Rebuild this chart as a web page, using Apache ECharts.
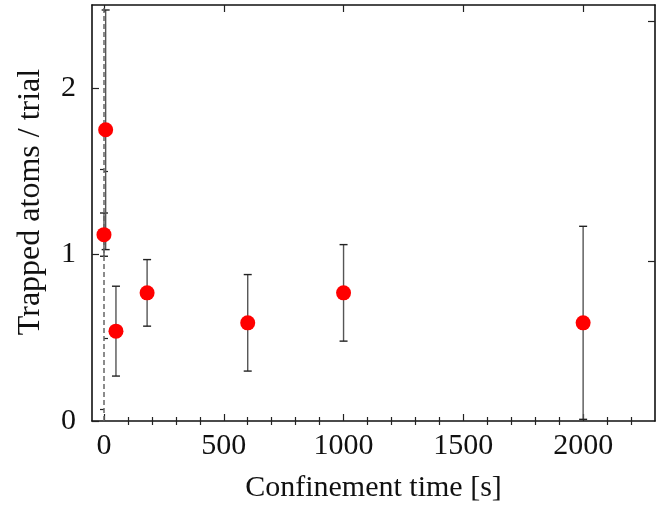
<!DOCTYPE html>
<html>
<head>
<meta charset="utf-8">
<script src="https://cdn.jsdelivr.net/npm/echarts@6/dist/echarts.min.js"></script>
<style>
html,body{margin:0;padding:0;background:#fff;}
#chart{width:664px;height:508px;}
</style>
</head>
<body>
<div id="chart"></div>
<script>
// Data
var times = [0, 7, 50, 180, 600, 1000, 2000];
var atoms = [1.12, 1.75, 0.54, 0.77, 0.59, 0.77, 0.59];
var errors = [0.13, 0.72, 0.27, 0.20, 0.29, 0.29, 0.58];
var dashedLineX = [0];
var xMajorTicks = [0, 500, 1000, 1500, 2000];
var xMinorTicks = [100, 200, 300, 400, 600, 700, 800, 900, 1100, 1200, 1300, 1400, 1600, 1700, 1800, 1900, 2100, 2200];
var yMajorTicks = [0, 1, 2];
var yMinorTicks = [0.5, 1.5];
var yRightMajorTicks = [0.96, 2.40];
var yRightMinorTicks = [0.07, 1.51];

var FONT = 'Liberation Serif';
var FS = 30;
var xMin = -50, xMax = 2300, yMin = 0, yMax = 2.5;

var scatterData = times.map(function (t, i) { return [t, atoms[i]]; });
var errData = times.map(function (t, i) { return [t, atoms[i] - errors[i], atoms[i] + errors[i]]; });

function plain(v) { return String(v); }

function xAx(pos, ticks, len, opts) {
  return Object.assign({
    type: 'value', position: pos, min: xMin, max: xMax,
    axisLine: { show: false },
    axisTick: { show: true, inside: true, length: len, customValues: ticks, lineStyle: { color: '#222', width: 1.2 } },
    axisLabel: { show: false },
    splitLine: { show: false }
  }, opts || {});
}
function yAx(pos, ticks, len, opts) {
  return Object.assign({
    type: 'value', position: pos, min: yMin, max: yMax,
    axisLine: { show: false },
    axisTick: { show: true, inside: true, length: len, customValues: ticks, lineStyle: { color: '#222', width: 1.2 } },
    axisLabel: { show: false },
    splitLine: { show: false }
  }, opts || {});
}

var chart = echarts.init(document.getElementById('chart'), null, { renderer: 'canvas' });
chart.setOption({
  animation: false,
  backgroundColor: '#fff',
  grid: { left: 92, right: 9, top: 5, bottom: 87 },
  xAxis: [
    xAx('bottom', xMajorTicks, 7, {
      axisLine: { show: true, onZero: false, lineStyle: { color: '#111', width: 1.6 } },
      axisLabel: { show: true, customValues: xMajorTicks, formatter: plain, margin: 10, fontFamily: FONT, fontSize: FS, color: '#111' },
      name: 'Confinement time [s]', nameLocation: 'middle', nameGap: 52,
      nameTextStyle: { fontFamily: FONT, fontSize: FS, color: '#111' }
    }),
    xAx('bottom', xMinorTicks, 4),
    xAx('top', xMajorTicks, 7, { axisLine: { show: true, onZero: false, lineStyle: { color: '#111', width: 1.6 } } }),
    xAx('top', xMinorTicks, 4)
  ],
  yAxis: [
    yAx('left', yMajorTicks, 7, {
      axisLine: { show: true, onZero: false, lineStyle: { color: '#111', width: 1.6 } },
      axisLabel: { show: true, customValues: yMajorTicks, formatter: plain, margin: 16, fontFamily: FONT, fontSize: FS, color: '#111' },
      name: 'Trapped atoms / trial', nameLocation: 'middle', nameGap: 45,
      nameTextStyle: { fontFamily: FONT, fontSize: 32, color: '#111', padding: [0, 0, 0, 22] }
    }),
    yAx('left', yMinorTicks, 4),
    yAx('right', yRightMajorTicks, 7, { axisLine: { show: true, onZero: false, lineStyle: { color: '#111', width: 1.6 } } }),
    yAx('right', yRightMinorTicks, 4)
  ],
  series: [
    {
      type: 'line', data: [], xAxisIndex: 0, yAxisIndex: 0, silent: true,
      markLine: {
        silent: true, symbol: ['none', 'none'], label: { show: false },
        lineStyle: { color: '#666', width: 1.5, type: [5, 3] },
        data: dashedLineX.map(function (v) { return { xAxis: v }; })
      }
    },
    {
      type: 'custom', xAxisIndex: 0, yAxisIndex: 0, data: errData, z: 3, silent: true,
      renderItem: function (params, api) {
        var x = api.value(0);
        var lo = api.coord([x, api.value(1)]);
        var hi = api.coord([x, api.value(2)]);
        var hw = 4;
        var st = { stroke: '#555', lineWidth: 1.4 };
        var cs = { stroke: '#222', lineWidth: 1.4 };
        return {
          type: 'group',
          children: [
            { type: 'line', shape: { x1: lo[0], y1: lo[1], x2: hi[0], y2: hi[1] }, style: st },
            { type: 'line', shape: { x1: lo[0] - hw, y1: lo[1], x2: lo[0] + hw, y2: lo[1] }, style: cs },
            { type: 'line', shape: { x1: hi[0] - hw, y1: hi[1], x2: hi[0] + hw, y2: hi[1] }, style: cs }
          ]
        };
      }
    },
    {
      type: 'scatter', xAxisIndex: 0, yAxisIndex: 0, data: scatterData, z: 5,
      symbol: 'circle', symbolSize: 15,
      itemStyle: { color: '#ff0000', opacity: 1 }
    }
  ]
});
</script>
</body>
</html>
